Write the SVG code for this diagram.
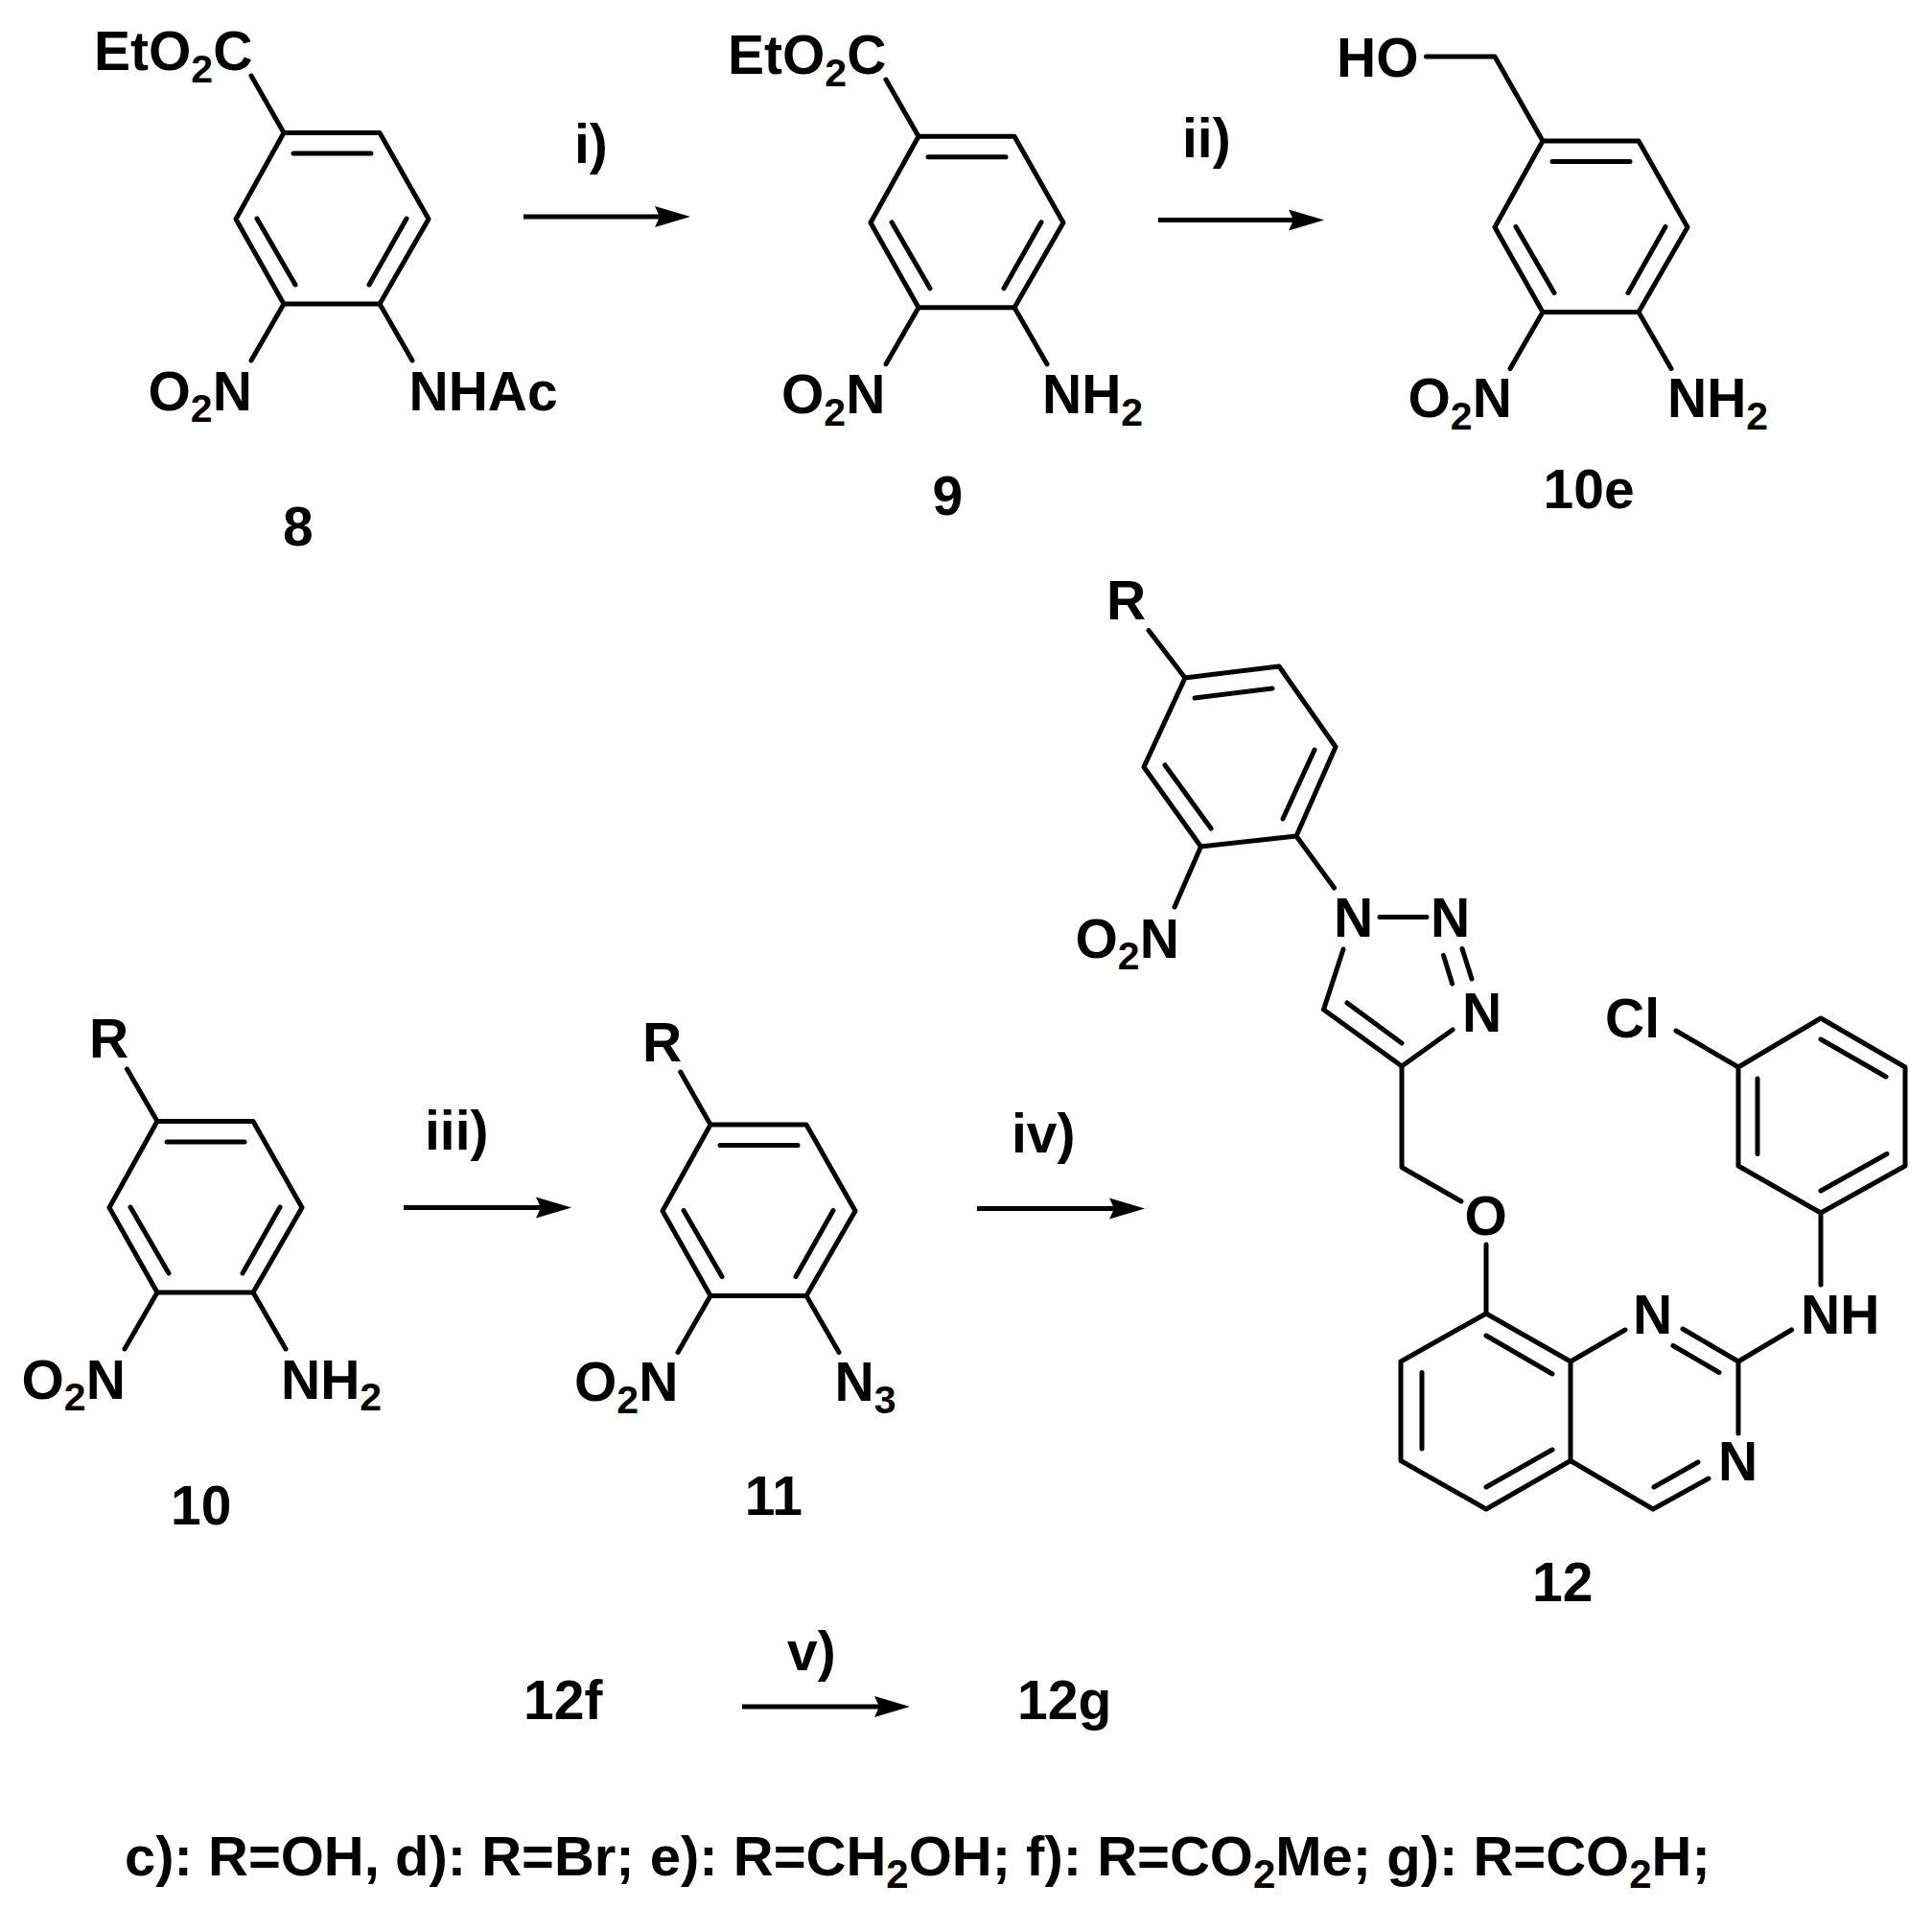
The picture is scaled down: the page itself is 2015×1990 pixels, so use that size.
<svg xmlns="http://www.w3.org/2000/svg" xmlns:xlink="http://www.w3.org/1999/xlink" width="2015" height="1990" viewBox="0 0 2015 1990">
<style>
.b{fill:none;stroke:#000;stroke-width:5;stroke-linecap:round;stroke-linejoin:round}
.a{fill:none;stroke:#000;stroke-width:5;marker-end:url(#head)}
text{font-family:"Liberation Sans",Arial,sans-serif;font-weight:700;font-size:57px;fill:#000}
.s{font-size:41px}
.f{font-size:58px}
.f .s{font-size:42px}
</style>
<defs>
<marker id="head" markerUnits="userSpaceOnUse" markerWidth="42" markerHeight="26" refX="8" refY="13" orient="auto"><path d="M3,2L40,13L3,24L8,13Z" fill="#000"/></marker>
<g id="ring">
<path class="b" d="M296,138.5H396L447,228.5L396,317H296L246,228.5Z"/>
<path class="b" d="M306,160H387M268,228L308,297M424,228L385,297M296,317L262,376M396,317L430,376"/>
</g>
</defs>
<rect width="2015" height="1990" fill="#fff"/>
<g id="connectors">
<line class="a" x1="546" y1="226" x2="688" y2="226"/>
<line class="a" x1="1208" y1="229.5" x2="1349" y2="229.5"/>
<line class="a" x1="421" y1="1259.6" x2="564" y2="1259.6"/>
<line class="a" x1="1019" y1="1260.4" x2="1162" y2="1260.4"/>
<line class="a" x1="774" y1="1780" x2="917" y2="1780"/>
</g>
<g id="compound-8">
<use xlink:href="#ring" href="#ring"/>
<path class="b" d="M296,138.5L262,79"/>
<text x="98" y="73">EtO<tspan class="s" dy="12.5">2</tspan><tspan dy="-12.5">C</tspan></text>
<text x="154.5" y="427.5">O<tspan class="s" dy="12.5">2</tspan><tspan dy="-12.5">N</tspan></text>
<text x="426.5" y="427.5">NHAc</text>
<text x="295" y="569">8</text>
</g>
<g id="compound-9">
<use xlink:href="#ring" href="#ring" transform="translate(662,3.8)"/>
<path class="b" d="M958,142.3L924,83"/>
<text x="759" y="77">EtO<tspan class="s" dy="12.5">2</tspan><tspan dy="-12.5">C</tspan></text>
<text x="815" y="431">O<tspan class="s" dy="12.5">2</tspan><tspan dy="-12.5">N</tspan></text>
<text x="1087" y="431">NH<tspan class="s" dy="12.5">2</tspan></text>
<text x="972.5" y="537">9</text>
</g>
<g id="compound-10e">
<use xlink:href="#ring" href="#ring" transform="translate(1313,8.5)"/>
<path class="b" d="M1609,147L1559,59H1487.5"/>
<text x="1394" y="80.4">HO</text>
<text x="1468.5" y="435">O<tspan class="s" dy="12.5">2</tspan><tspan dy="-12.5">N</tspan></text>
<text x="1739" y="435">NH<tspan class="s" dy="12.5">2</tspan></text>
<text x="1609.5" y="530">10e</text>
</g>
<g id="compound-10">
<use xlink:href="#ring" href="#ring" transform="translate(-132,1031)"/>
<path class="b" d="M164,1169.5L132.5,1115"/>
<text x="93" y="1103.4">R</text>
<text x="22.5" y="1458.5">O<tspan class="s" dy="12.5">2</tspan><tspan dy="-12.5">N</tspan></text>
<text x="293" y="1458.5">NH<tspan class="s" dy="12.5">2</tspan></text>
<text x="178" y="1590">10</text>
</g>
<g id="compound-11">
<use xlink:href="#ring" href="#ring" transform="translate(445,1034.5)"/>
<path class="b" d="M741,1173L709.7,1118"/>
<text x="670" y="1106.5">R</text>
<text x="599" y="1461">O<tspan class="s" dy="12.5">2</tspan><tspan dy="-12.5">N</tspan></text>
<text x="870.6" y="1461">N<tspan class="s" dy="12.5">3</tspan></text>
<text x="776.7" y="1580">11</text>
</g>
<g id="compound-12">
<path class="b" d="M1236,707L1334,695L1393,779L1352,872L1252.5,883L1193,800Z"/>
<path class="b" d="M1246,728L1327,718M1371,782L1338,854M1215,798L1263,864M1236,707L1198,657.5M1252.5,883L1225,946M1352,872L1391.5,926"/>
<path class="b" d="M1439,956.5H1488M1525,989.5L1535,1021M1505.5,996.5L1514.6,1026M1401,990L1380.5,1053L1462,1112L1515,1074M1405,1046L1462,1088"/>
<path class="b" d="M1462,1112V1217.5L1524,1253M1550,1298V1370"/>
<path class="b" d="M1550,1370L1638,1420V1523.5L1550,1574L1461,1523.5V1420Z"/>
<path class="b" d="M1550,1393L1619,1433M1483,1431.5V1511M1619,1512L1550,1551"/>
<path class="b" d="M1638,1420L1695,1387M1755,1386L1813,1420V1495M1745,1403.5L1793,1431.5M1782,1542L1724,1574L1638,1523.5M1771,1525L1725,1551"/>
<path class="b" d="M1813,1420L1868.5,1387M1899,1340V1265"/>
<path class="b" d="M1899,1265L1987,1216V1113L1899,1062L1813,1113V1216Z"/>
<path class="b" d="M1899,1242L1968,1203.5M1833,1203.5V1125M1899,1084L1967,1123M1813,1113L1748,1075"/>
<text x="1154" y="645.6">R</text>
<text x="1121.5" y="998.6">O<tspan class="s" dy="12.5">2</tspan><tspan dy="-12.5">N</tspan></text>
<text x="1391" y="977">N</text>
<text x="1492" y="977">N</text>
<text x="1525" y="1076">N</text>
<text x="1674" y="1082">Cl</text>
<text x="1527.5" y="1288">O</text>
<text x="1703" y="1391">N</text>
<text x="1878" y="1391">NH</text>
<text x="1792" y="1544">N</text>
<text x="1598" y="1670">12</text>
</g>
<g id="labels">
<text x="599" y="170">i)</text>
<text x="1233" y="164">ii)</text>
<text x="443" y="1198.7">iii)</text>
<text x="1055" y="1202">iv)</text>
<text x="821" y="1742">v)</text>
<text x="546" y="1793">12f</text>
<text x="1061" y="1793">12g</text>
<text class="f" x="130" y="1956">c): R=OH, d): R=Br; e): R=CH<tspan class="s" dy="12.5">2</tspan><tspan dy="-12.5">OH; f): R=CO</tspan><tspan class="s" dy="12.5">2</tspan><tspan dy="-12.5">Me; g): R=CO</tspan><tspan class="s" dy="12.5">2</tspan><tspan dy="-12.5">H;</tspan></text>
</g>
</svg>
